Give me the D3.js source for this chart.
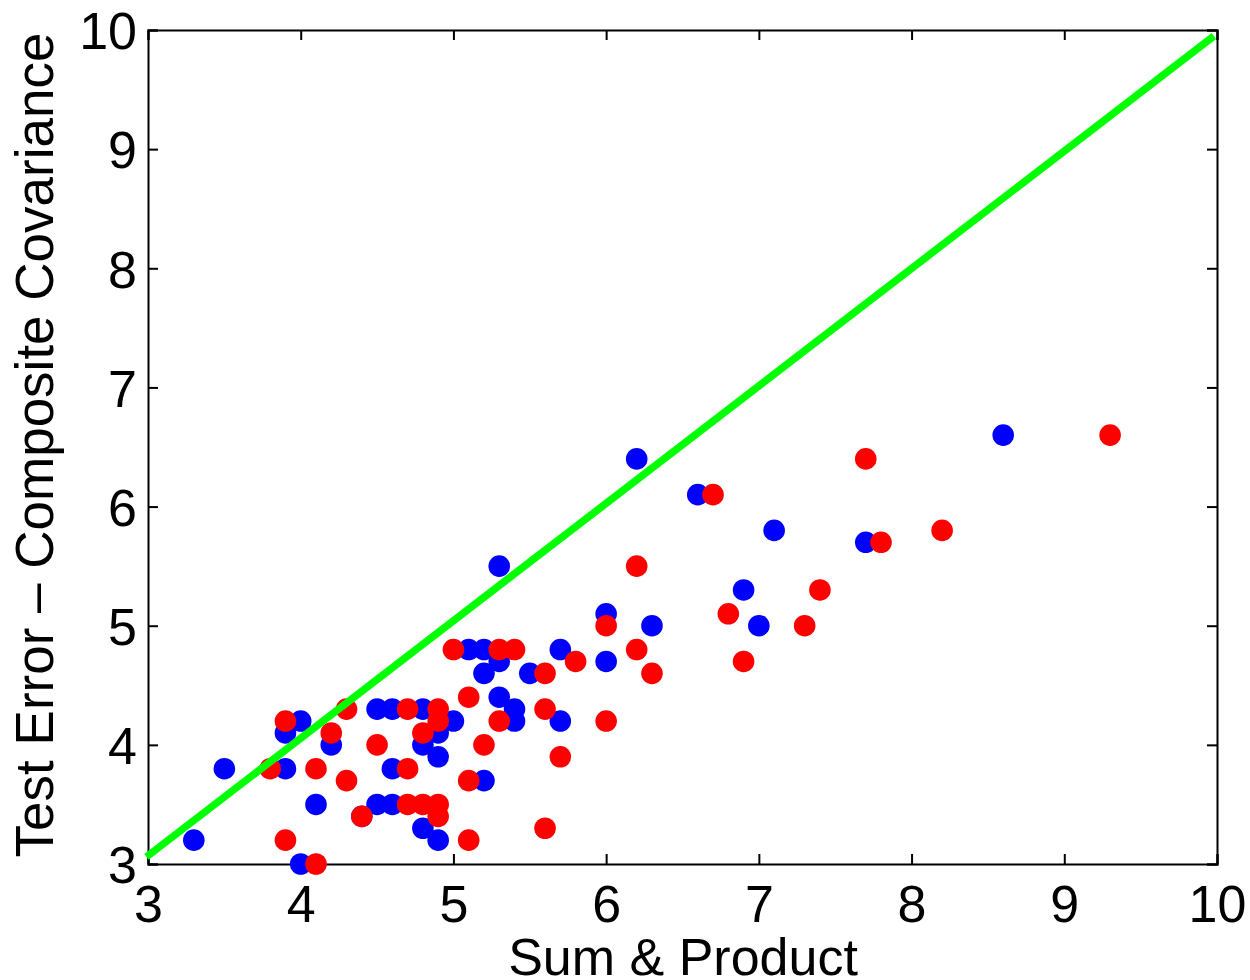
<!DOCTYPE html>
<html>
<head>
<meta charset="utf-8">
<script src="https://cdn.jsdelivr.net/npm/d3@7/dist/d3.min.js"></script>
<style>
  html, body { margin: 0; padding: 0; background: #fff; }
  svg { display: block; }
  text { font-family: "Liberation Sans", Arial, sans-serif; fill: #000; }
</style>
</head>
<body>
<svg id="chart" width="1250" height="980"></svg>
<script>
// Test error per dataset: Sum & Product (x) against Composite Covariance (y)
const blueX = [3.3, 3.5, 3.9, 3.9, 4.0, 4.0, 4.1, 4.2, 4.4, 4.5, 4.5, 4.6, 4.6, 4.6, 4.8, 4.8, 4.8, 4.9, 4.9, 4.9,
               5.0, 5.1, 5.2, 5.2, 5.2, 5.3, 5.3, 5.3, 5.4, 5.4, 5.5, 5.7, 5.7, 6.0, 6.0, 6.2, 6.3, 6.6, 6.9, 7.0,
               7.1, 7.7, 8.6];
const blueY = [3.2, 3.8, 4.1, 3.8, 4.2, 3.0, 3.5, 4.0, 3.4, 4.3, 3.5, 4.3, 3.8, 3.5, 4.3, 4.0, 3.3, 4.1, 3.9, 3.2,
               4.2, 4.8, 4.8, 4.6, 3.7, 5.5, 4.7, 4.4, 4.3, 4.2, 4.6, 4.8, 4.2, 5.1, 4.7, 6.4, 5.0, 6.1, 5.3, 5.0,
               5.8, 5.7, 6.6];

const redX = [3.8, 3.9, 3.9, 4.1, 4.1, 4.2, 4.3, 4.3, 4.4, 4.5, 4.7, 4.7, 4.7, 4.8, 4.8, 4.9, 4.9, 4.9, 4.9,
              5.0, 5.1, 5.1, 5.1, 5.2, 5.3, 5.3, 5.4, 5.6, 5.6, 5.6, 5.7, 5.8, 6.0, 6.0, 6.2, 6.2, 6.3, 6.7,
              6.8, 6.9, 7.3, 7.4, 7.7, 7.8, 8.2, 9.3];
const redY = [3.8, 4.2, 3.2, 3.0, 3.8, 4.1, 4.3, 3.7, 3.4, 4.0, 4.3, 3.8, 3.5, 4.1, 3.5, 4.3, 4.2, 3.5, 3.4,
              4.8, 4.4, 3.7, 3.2, 4.0, 4.8, 4.2, 4.8, 4.6, 4.3, 3.3, 3.9, 4.7, 5.0, 4.2, 5.5, 4.8, 4.6, 6.1,
              5.1, 4.7, 5.0, 5.3, 6.4, 5.7, 5.8, 6.6];

// Reference line (equal error)
const refLineX = [2.99, 9.98];
const refLineY = [3.06, 9.95];

const xTicks = [3, 4, 5, 6, 7, 8, 9, 10];
const yTicks = [3, 4, 5, 6, 7, 8, 9, 10];

const xLabel = "Sum & Product";
const yLabel = "Test Error \u2013 Composite Covariance";

const margin = { left: 148, right: 33, top: 30, bottom: 116 };
const W = 1250, H = 980;
const innerW = W - margin.left - margin.right;
const innerH = H - margin.top - margin.bottom;

const svg = d3.select("#chart");
const g = svg.append("g").attr("transform", `translate(${margin.left},${margin.top})`);

const x = d3.scaleLinear().domain([3, 10]).range([0, innerW]);
const y = d3.scaleLinear().domain([3, 10]).range([innerH, 0]);

const fontSize = 52;
const titleSize = 53;
const tickLen = 10;

// Bottom and left axes with labels; inward ticks
const xAxis = g.append("g").attr("transform", `translate(0,${innerH})`)
  .call(d3.axisBottom(x).tickValues(xTicks).tickSize(-tickLen).tickPadding(20).tickFormat(d3.format("d")));
const yAxis = g.append("g")
  .call(d3.axisLeft(y).tickValues(yTicks).tickSize(-tickLen).tickPadding(10).tickFormat(d3.format("d")));
// Top and right axes (ticks only)
const xTop = g.append("g")
  .call(d3.axisTop(x).tickValues(xTicks).tickSize(-tickLen).tickFormat(""));
const yRight = g.append("g").attr("transform", `translate(${innerW},0)`)
  .call(d3.axisRight(y).tickValues(yTicks).tickSize(-tickLen).tickFormat(""));

[xAxis, yAxis, xTop, yRight].forEach(a => {
  a.select(".domain").attr("stroke", "#000").attr("stroke-width", 2);
  a.selectAll(".tick line").attr("stroke", "#000").attr("stroke-width", 2);
  a.selectAll(".tick text").attr("font-size", fontSize)
    .attr("font-family", "'Liberation Sans', Arial, sans-serif").attr("fill", "#000");
});
xAxis.selectAll(".tick text").attr("dy", "0.71em").attr("y", 21);
yAxis.selectAll(".tick text").attr("dy", "0.36em").attr("x", -11);

// Markers: blue series first, red on top
const r = 10.8;
g.append("g").selectAll("circle.blue")
  .data(blueX.map((v, i) => [v, blueY[i]]))
  .join("circle")
  .attr("cx", d => x(d[0])).attr("cy", d => y(d[1])).attr("r", r)
  .attr("fill", "#0000ff");

g.append("g").selectAll("circle.red")
  .data(redX.map((v, i) => [v, redY[i]]))
  .join("circle")
  .attr("cx", d => x(d[0])).attr("cy", d => y(d[1])).attr("r", r)
  .attr("fill", "#ff0000");

// Equal-error line
g.append("line")
  .attr("x1", x(refLineX[0])).attr("y1", y(refLineY[0]))
  .attr("x2", x(refLineX[1])).attr("y2", y(refLineY[1]))
  .attr("stroke", "#00ff00").attr("stroke-width", 7.5);

// Axis titles
svg.append("text")
  .attr("x", 683).attr("y", 975)
  .attr("text-anchor", "middle").attr("font-size", 52)
  .text(xLabel);

svg.append("text")
  .attr("transform", `translate(53,445) rotate(-90)`)
  .attr("text-anchor", "middle").attr("font-size", titleSize)
  .text(yLabel);
</script>
</body>
</html>
